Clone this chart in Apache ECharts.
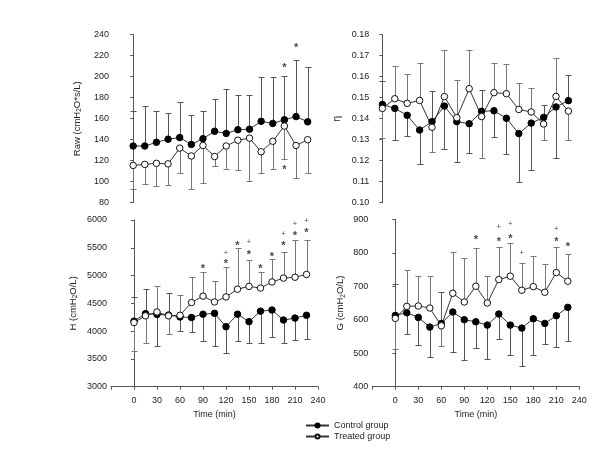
<!DOCTYPE html>
<html>
<head>
<meta charset="utf-8">
<script src="https://cdn.jsdelivr.net/npm/echarts@6/dist/echarts.min.js"></script>
<style>
html,body{margin:0;padding:0;background:#fff;}
#c{width:600px;height:452px;}
</style>
</head>
<body>
<div id="c"></div>
<script>
// ---------- data ----------
const times = [0, 15, 30, 45, 60, 75, 90, 105, 120, 135, 150, 165, 180, 195, 210, 225];
const xTicks = [0, 30, 60, 90, 120, 150, 180, 210, 240];

// Raw (cmH2O*s/L)
const rawControl    = [134, 134, 137.5, 140.5, 142, 135.5, 141, 148, 146, 149.5, 150, 157.5, 155.5, 159, 162, 157];
const rawControlEnd = [167.5, 172.5, 167.5, 165, 175.5, 163.5, 167.5, 178.5, 188, 183, 182.5, 199.5, 199.5, 201, 216, 209.5];
const rawTreated    = [115.5, 116.5, 117.5, 117, 132, 124.5, 134.5, 124, 134, 139.5, 141.5, 128.5, 138.5, 153, 134.5, 140];
const rawTreatedEnd = [93.5, 98, 95.5, 96.5, 108, 93.5, 99, 115, 112.5, 111.5, 101, 108, 112, 122, 104, 108];
const rawMarks = [[195, 211, '*'], [210, 229.5, '*'], [195, 114, '*']];

// eta
const etaControl    = [0.1468, 0.1449, 0.1416, 0.1346, 0.1386, 0.1460, 0.1386, 0.1376, 0.1435, 0.1438, 0.1402, 0.1329, 0.1379, 0.1406, 0.1456, 0.1486];
const etaControlEnd = [0.1580, 0.1298, 0.1320, 0.1183, 0.1530, 0.1254, 0.1195, 0.1235, 0.1537, 0.1314, 0.1230, 0.1100, 0.1156, 0.1463, 0.1211, 0.1608];
const etaTreated    = [0.1449, 0.1495, 0.1473, 0.1487, 0.1359, 0.1505, 0.1405, 0.1543, 0.1410, 0.1524, 0.1519, 0.1444, 0.1432, 0.1375, 0.1506, 0.1436];
const etaTreatedEnd = [0.1306, 0.1652, 0.1614, 0.1665, 0.1241, 0.1727, 0.1584, 0.1727, 0.1211, 0.1663, 0.1660, 0.1568, 0.1544, 0.1298, 0.1687, 0.1298];
const etaMarks = [];

// H (cmH2O/L)
const hControl    = [4180, 4315, 4300, 4290, 4255, 4245, 4305, 4320, 4080, 4305, 4170, 4360, 4380, 4200, 4235, 4285];
const hControlEnd = [4616, 4765, 3740, 4695, 4000, 3990, 3830, 3740, 3600, 3820, 3780, 3795, 3900, 3780, 3840, 3850];
const hTreated    = [4155, 4275, 4345, 4275, 4285, 4515, 4630, 4525, 4615, 4755, 4805, 4775, 4885, 4955, 4970, 5020];
const hTreatedEnd = [3640, 3780, 4810, 3945, 4658, 4970, 5065, 4897, 5150, 5495, 5285, 5065, 5290, 5430, 5635, 5645];
const hMarks = [
  [90, 5172, '*'], [120, 5411, '+'], [120, 5262, '*'], [135, 5581, '*'],
  [150, 5609, '+'], [150, 5411, '*'], [165, 5159, '*'], [180, 5383, '*'],
  [195, 5748, '+'], [195, 5581, '*'], [210, 5928, '+'], [210, 5761, '*'],
  [225, 5982, '+'], [225, 5820, '*']
];

// G (cmH2O/L)
const gControl    = [613, 621, 607, 578, 589, 623, 600, 594, 584, 617, 584, 575, 603, 589, 612, 637];
const gControlEnd = [706, 556, 525, 488, 682, 503, 479, 516, 482, 541, 495, 463, 495, 527, 520, 536];
const gTreated    = [604, 640, 641, 635, 582, 679, 653, 700, 650, 720, 730, 688, 699, 682, 741, 715];
const gTreatedEnd = [512, 750, 732, 730, 522, 802, 785, 815, 730, 818, 828, 770, 791, 765, 818, 797];
const gMarks = [
  [105, 845, '*'], [135, 878, '+'], [135, 841, '*'], [150, 885, '+'], [150, 848, '*'],
  [165, 800, '+'], [210, 871, '+'], [210, 841, '*'], [225, 826, '*']
];

// ---------- chart ----------
const FONT = 'Arial, "Liberation Sans", sans-serif';
const TXT = '#222';
const AX = '#555';

const grids = [
  {left: 113, top: 34.7, width: 206.3, height: 168},
  {left: 373.3, top: 34.7, width: 207.5, height: 168},
  {left: 111, top: 220, width: 207, height: 166.7},
  {left: 372.3, top: 219.3, width: 207, height: 167.4}
];

function xAxisFor(i, min, show) {
  return {
    gridIndex: i, type: 'value', min: min, max: 240, interval: 30,
    show: show,
    axisLine: {show: true, lineStyle: {color: AX, width: 1}},
    axisTick: {show: true, length: 3, lineStyle: {color: AX}},
    splitLine: {show: false},
    axisLabel: {
      color: TXT, fontFamily: FONT, fontSize: 9, margin: 9,
      formatter: v => (xTicks.indexOf(v) >= 0 ? String(v) : '')
    },
    name: show ? 'Time (min)' : '',
    nameLocation: 'middle', nameGap: 23,
    nameTextStyle: {color: TXT, fontFamily: FONT, fontSize: 9}
  };
}

function nameRich(pre, post) {
  return {
    text: '{n|' + pre + '}{s|2}{n|' + post + '}',
    rich: {
      n: {fontFamily: FONT, fontSize: 9.5, color: TXT},
      s: {fontFamily: FONT, fontSize: 6.5, color: TXT, padding: [5, 0, 0, 0]}
    }
  };
}

function yAxisFor(i, min, max, interval, dec, name, gap) {
  const ax = {
    gridIndex: i, type: 'value', min: min, max: max, interval: interval,
    axisLine: {show: true, lineStyle: {color: AX, width: 1}},
    axisTick: {show: true, length: 3, lineStyle: {color: AX}},
    splitLine: {show: false},
    axisLabel: {
      color: TXT, fontFamily: FONT, fontSize: 9, margin: 4,
      formatter: v => v.toFixed(dec)
    },
    nameLocation: 'middle', nameGap: gap, nameRotate: 90
  };
  if (typeof name === 'string') {
    ax.name = name;
    ax.nameTextStyle = {color: TXT, fontFamily: FONT, fontSize: 10};
  } else {
    ax.name = name.text;
    ax.nameTextStyle = {rich: name.rich};
  }
  return ax;
}

function errSeries(i, mean, end, color) {
  return {
    type: 'custom', xAxisIndex: i, yAxisIndex: i, z: 1, silent: true,
    data: times.map((t, k) => [t, mean[k], end[k]]),
    renderItem: function (params, api) {
      const p0 = api.coord([api.value(0), api.value(1)]);
      const p1 = api.coord([api.value(0), api.value(2)]);
      const x = Math.round(p0[0]) + 0.5;
      const ye = Math.round(p1[1]) + 0.5;
      const st = {stroke: color, lineWidth: 1};
      return {
        type: 'group',
        children: [
          {type: 'line', shape: {x1: x, y1: p0[1], x2: x, y2: ye}, style: st},
          {type: 'line', shape: {x1: x - 3, y1: ye, x2: x + 3, y2: ye}, style: st}
        ]
      };
    }
  };
}

function lineSeries(i, name, vals, filled) {
  return {
    type: 'line', name: name, xAxisIndex: i, yAxisIndex: i, z: 3,
    data: times.map((t, k) => [t, vals[k]]),
    symbol: 'circle', symbolSize: 6.5, showSymbol: true,
    lineStyle: {color: '#333', width: 1},
    itemStyle: filled ? {color: '#000', borderColor: '#000', borderWidth: 1}
                      : {color: '#fff', borderColor: '#111', borderWidth: 1},
    color: filled ? '#000' : '#fff',
    animation: false
  };
}

function markSeries(i, marks) {
  return {
    type: 'scatter', xAxisIndex: i, yAxisIndex: i, z: 4, silent: true,
    symbolSize: 0,
    data: marks.map(m => ({
      value: [m[0], m[1]],
      label: {
        show: true, position: 'inside', formatter: m[2],
        color: '#111', fontFamily: FONT,
        fontSize: m[2] === '*' ? 11 : 7.5,
        fontWeight: m[2] === '*' ? 'bold' : 'normal',
        offset: m[2] === '*' ? [0, 2.5] : [0, 0]
      }
    }))
  };
}

function panel(i, c, ce, t, te, marks) {
  return [
    errSeries(i, c, ce, '#555'),
    errSeries(i, t, te, '#777'),
    lineSeries(i, 'Control group', c, true),
    lineSeries(i, 'Treated group', t, false),
    markSeries(i, marks)
  ];
}

const option = {
  animation: false,
  backgroundColor: '#fff',
  textStyle: {fontFamily: FONT},
  grid: grids,
  xAxis: [
    xAxisFor(0, -26, false),
    xAxisFor(1, -11, false),
    xAxisFor(2, -30, true),
    xAxisFor(3, -30, true)
  ],
  yAxis: [
    yAxisFor(0, 80, 240, 20, 0, nameRich('Raw (cmH', 'O*s/L)'), 30),
    yAxisFor(1, 0.10, 0.18, 0.01, 2, 'η', 31),
    yAxisFor(2, 3000, 6000, 500, 0, nameRich('H (cmH', 'O/L)'), 32),
    yAxisFor(3, 400, 900, 100, 0, nameRich('G (cmH', 'O/L)'), 26)
  ],
  legend: {
    orient: 'vertical', left: 305, top: 420, padding: 0,
    width: 120, height: 30,
    itemWidth: 23, itemHeight: 5, itemGap: 0,
    textStyle: {color: TXT, fontFamily: FONT, fontSize: 9, lineHeight: 11},
    data: ['Control group', 'Treated group']
  },
  series: [].concat(
    panel(0, rawControl, rawControlEnd, rawTreated, rawTreatedEnd, rawMarks),
    panel(1, etaControl, etaControlEnd, etaTreated, etaTreatedEnd, etaMarks),
    panel(2, hControl, hControlEnd, hTreated, hTreatedEnd, hMarks),
    panel(3, gControl, gControlEnd, gTreated, gTreatedEnd, gMarks)
  )
};

const chart = echarts.init(document.getElementById('c'), null, {renderer: 'canvas'});
chart.setOption(option);
</script>
</body>
</html>
